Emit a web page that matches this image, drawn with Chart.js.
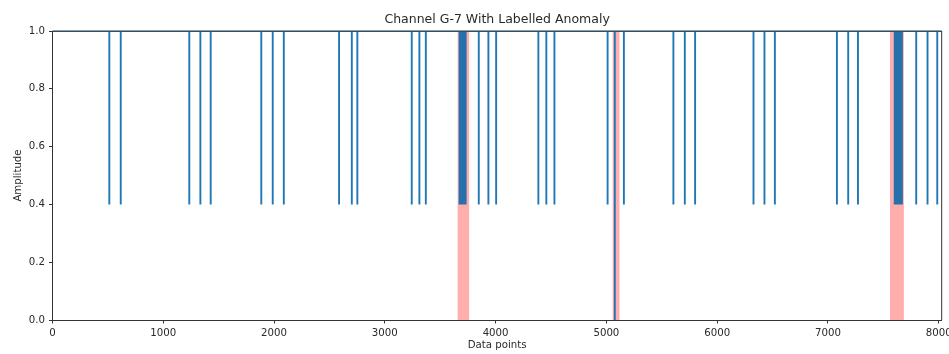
<!DOCTYPE html>
<html>
<head>
<meta charset="utf-8">
<title>Channel G-7 With Labelled Anomaly</title>
<script src="https://cdn.jsdelivr.net/npm/chart.js@4/dist/chart.umd.min.js"></script>
<style>
  html, body { margin: 0; padding: 0; background: #fff; overflow: hidden; }
  #wrap { width: 962px; height: 354px; }
</style>
</head>
<body>
<div id="wrap"><canvas id="myChart" width="962" height="354"></canvas></div>
<script>
// channel sits at 1.0 and drops for single points
var dropX = [513, 616, 1235, 1335, 1428, 1885, 1988, 2088, 2587, 2702, 2752, 3243, 3312, 3370,
  3848, 3935, 4005, 4386, 4458, 4531, 5011, 5076, 5158, 5605, 5708, 5801, 6328, 6427, 6521,
  7081, 7183, 7271, 7797, 7899, 7987]
var dropY = [0.4, 0.4, 0.4, 0.4, 0.4, 0.4, 0.4, 0.4, 0.4, 0.4, 0.4, 0.4, 0.4, 0.4,
  0.4, 0.4, 0.4, 0.4, 0.4, 0.4, 0.4, 0.0, 0.4, 0.4, 0.4, 0.4, 0.4, 0.4, 0.4,
  0.4, 0.4, 0.4, 0.4, 0.4, 0.4]
var baseLevel = 1.0

// stretches where the channel keeps flipping between 0.4 and 1.0
var burstStart = [3664, 7592]
var burstEnd = [3740, 7677]
var burstLow = [0.4, 0.4]

// labelled anomaly windows
var anomalyStart = [3655, 5055, 7560]
var anomalyEnd = [3763, 5120, 7686]

var xTicks = [0, 1000, 2000, 3000, 4000, 5000, 6000, 7000, 8000]
var yTicks = [0, 0.2, 0.4, 0.6, 0.8, 1.0]
var xMax = 8027

var blue = '#1f77b4'
var pink = 'rgba(255, 0, 0, 0.32)'
var ink = '#2a2a2a'
var font = 'DejaVu Sans'

function signalPoints () {
  var pts = [{x: 0, y: baseLevel}]
  for (var i = 0; i < dropX.length; i++) {
    pts.push({x: dropX[i], y: baseLevel})
    pts.push({x: dropX[i], y: dropY[i]})
    pts.push({x: dropX[i], y: baseLevel})
  }
  pts.push({x: xMax, y: baseLevel})
  return pts
}

var datasets = [{
  label: 'Channel G-7',
  data: signalPoints(),
  borderColor: blue,
  borderWidth: 1.9,
  pointRadius: 0,
  tension: 0,
  borderJoinStyle: 'bevel',
  fill: false
}]

burstStart.forEach(function (s, i) {
  datasets.push({
    label: 'burst ' + i,
    data: [{x: s, y: baseLevel}, {x: burstEnd[i], y: baseLevel}],
    borderColor: '#2671ab',
    borderWidth: 1,
    backgroundColor: '#2671ab',
    pointRadius: 0,
    fill: {value: burstLow[i]}
  })
})

anomalyStart.forEach(function (s, i) {
  datasets.push({
    label: 'anomaly ' + i,
    data: [{x: s, y: baseLevel}, {x: anomalyEnd[i], y: baseLevel}],
    borderWidth: 0,
    borderColor: 'rgba(0,0,0,0)',
    backgroundColor: pink,
    pointRadius: 0,
    fill: 'start'
  })
})

// top and right spines
var frame = {
  id: 'frame',
  afterDatasetsDraw: function (chart) {
    var a = chart.chartArea
    var c = chart.ctx
    c.save()
    c.strokeStyle = '#333'
    c.lineWidth = 1
    c.beginPath()
    c.moveTo(a.left, a.top)
    c.lineTo(a.right, a.top)
    c.lineTo(a.right, a.bottom)
    c.stroke()
    c.restore()
  }
}

const ctx = document.getElementById('myChart')

new Chart(ctx, {
  type: 'line',
  data: { datasets: datasets },
  plugins: [frame],
  options: {
    responsive: false,
    animation: false,
    devicePixelRatio: 1,
    layout: { padding: { left: 0, right: 20.3, top: 0, bottom: 0 } },
    plugins: {
      legend: { display: false },
      tooltip: { enabled: false },
      title: {
        display: true,
        text: 'Channel G-7 With Labelled Anomaly',
        fullSize: false,
        color: ink,
        font: { family: font, size: 12.5, weight: 'normal' },
        padding: { top: 12.5, bottom: 3.5 }
      }
    },
    scales: {
      x: {
        type: 'linear',
        min: 0,
        max: xMax,
        afterBuildTicks: function (scale) { scale.ticks = xTicks.map(function (v) { return {value: v} }) },
        afterFit: function (scale) { scale.height = 34 },
        ticks: {
          color: ink,
          padding: 3.5,
          maxRotation: 0,
          font: { family: font, size: 10.2 },
          callback: function (v) { return String(v) }
        },
        grid: { drawOnChartArea: false, drawTicks: true, tickLength: 3.5, color: '#333' },
        border: { display: true, color: '#333', width: 1 },
        title: {
          display: true,
          text: 'Data points',
          color: ink,
          font: { family: font, size: 10.2 },
          padding: { top: 0, bottom: 2.5 }
        }
      },
      y: {
        min: 0,
        max: 1,
        afterBuildTicks: function (scale) { scale.ticks = yTicks.map(function (v) { return {value: v} }) },
        afterFit: function (scale) { scale.width = 52.5 },
        ticks: {
          color: ink,
          padding: 4,
          font: { family: font, size: 10.2 },
          callback: function (v) { return v.toFixed(1) }
        },
        grid: { drawOnChartArea: false, drawTicks: true, tickLength: 3.5, color: '#333' },
        border: { display: true, color: '#333', width: 1 },
        title: {
          display: true,
          text: 'Amplitude',
          color: ink,
          font: { family: font, size: 10.2 },
          padding: { top: 12, bottom: 0 }
        }
      }
    }
  }
})
</script>
</body>
</html>
